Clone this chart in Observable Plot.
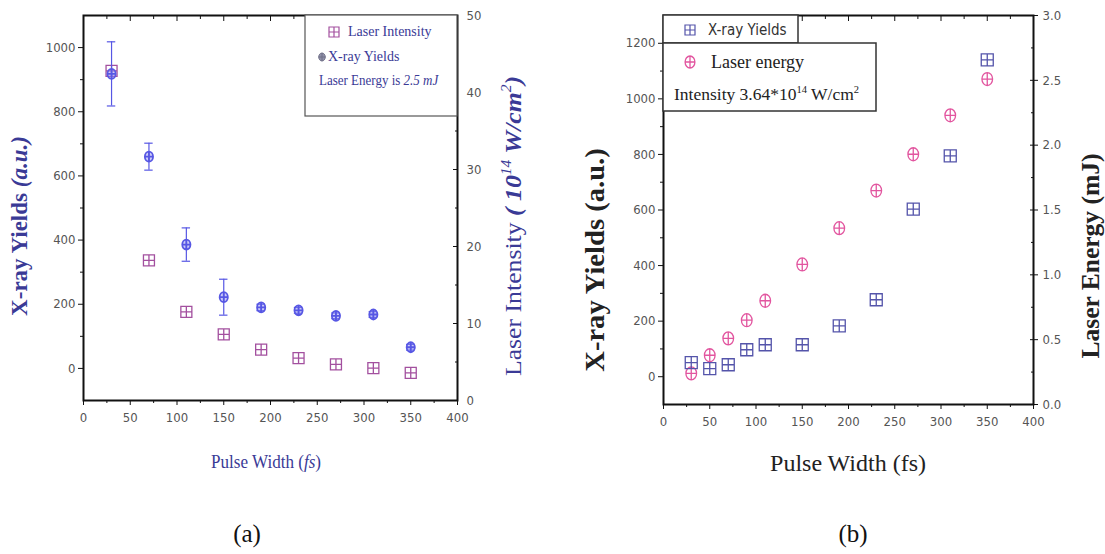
<!DOCTYPE html>
<html>
<head>
<meta charset="utf-8">
<script src="https://cdn.jsdelivr.net/npm/d3@7"></script>
<script src="https://cdn.jsdelivr.net/npm/@observablehq/plot@0.6"></script>
<style>
  body { margin: 0; background: #fff; }
  #fig { position: relative; width: 1105px; height: 554px; overflow: hidden; background: #fff; }
  .panel { position: absolute; top: 0; }
  .cap { position: absolute; top: 521px; width: 60px; text-align: center;
         font-family: "Liberation Serif", "Times New Roman", serif; font-size: 25px; color: #111; line-height: 1; }
</style>
</head>
<body>
<div id="fig"></div>
<script>
// ---------- Panel (a): fixed laser energy (2.5 mJ), varying pulse width ----------
const pulseWidthA = [30, 70, 110, 150, 190, 230, 270, 310, 350];           // fs
const xrayYieldA = [918, 660, 386, 222, 190, 181, 164, 168, 66];           // a.u.
const xrayErrA = [100, 42, 52, 56, 10, 9, 9, 9, 9];                       // a.u.
const laserIntensityA = [42.8, 18.2, 11.5, 8.6, 6.6, 5.5, 4.7, 4.2, 3.6]; // 10^14 W/cm^2
const intensityTicks = [0, 10, 20, 30, 40, 50];

// ---------- Panel (b): fixed intensity (3.64e14 W/cm^2), varying pulse width ----------
const pulseWidthB = [30, 50, 70, 90, 110, 150, 190, 230, 270, 310, 350];            // fs
const xrayYieldB = [51, 29, 43, 97, 115, 115, 183, 277, 603, 795, 1140];           // a.u.
const laserEnergyB = [0.24, 0.38, 0.51, 0.65, 0.80, 1.08, 1.36, 1.65, 1.93, 2.23, 2.51]; // mJ
const energyTicks = [0, 0.5, 1.0, 1.5, 2.0, 2.5, 3.0];

const xMajor = [0, 50, 100, 150, 200, 250, 300, 350, 400];
const xMinor = [25, 75, 125, 175, 225, 275, 325, 375];

const SERIF = '"Liberation Serif", "Times New Roman", serif';
const NARROW = '"Liberation Sans Narrow", "Arial Narrow", "DejaVu Sans Condensed", sans-serif';

// Marker shapes: square with inner cross, ellipse with inner cross
function ellipse(ctx, rx, ry) {
  const k = 0.5523;
  ctx.moveTo(rx, 0);
  ctx.bezierCurveTo(rx, ry * k, rx * k, ry, 0, ry);
  ctx.bezierCurveTo(-rx * k, ry, -rx, ry * k, -rx, 0);
  ctx.bezierCurveTo(-rx, -ry * k, -rx * k, -ry, 0, -ry);
  ctx.bezierCurveTo(rx * k, -ry, rx, -ry * k, rx, 0);
  ctx.closePath();
}
const circlePlus = {
  draw(ctx, size) {
    const r = Math.sqrt(size / Math.PI), rx = r * 0.82;
    ellipse(ctx, rx, r);
    ctx.moveTo(-rx, 0); ctx.lineTo(rx, 0);
    ctx.moveTo(0, -r); ctx.lineTo(0, r);
  }
};
const squarePlus = {
  draw(ctx, size) {
    const r = Math.sqrt(size / Math.PI);
    ctx.moveTo(-r, -r); ctx.lineTo(r, -r); ctx.lineTo(r, r); ctx.lineTo(-r, r); ctx.closePath();
    ctx.moveTo(-r, 0); ctx.lineTo(r, 0);
    ctx.moveTo(0, -r); ctx.lineTo(0, r);
  }
};
function symbolPath(type, r) { return d3.symbol().type(type).size(Math.PI * r * r)(); }

// Rich text label (italic parts, superscripts) appended to a plot's SVG;
// sx stretches the text along its reading direction
function richText(svg, {x, y, rotate = 0, sx = 1, size, fill, weight = "normal", family = SERIF, anchor = "middle", parts}) {
  const t = d3.select(svg).append("text")
    .attr("transform", `translate(${x},${y}) rotate(${rotate}) scale(${sx},1)`)
    .attr("text-anchor", anchor).attr("font-family", family)
    .attr("font-size", size).attr("font-weight", weight).attr("fill", fill);
  let raised = false;
  for (const p of parts) {
    const s = t.append("tspan").text(p.t);
    if (p.i) s.attr("font-style", "italic");
    if (p.w) s.attr("font-weight", p.w);
    if (p.sup) { s.attr("dy", -size * 0.42).attr("font-size", size * 0.6); raised = true; }
    else if (raised) { s.attr("dy", size * 0.42); raised = false; }
  }
  return t;
}

// Standard axes: outward ticks on left/bottom, inward ticks on top/right
function frameAxes({yMajor, yMinor, rightTicks, rightFormat, rightCross, labelFill}) {
  const txt = {fill: labelFill, fontSize: 13, fontFamily: NARROW};
  const blank = () => "";
  const plain = d => String(d);
  return [
    Plot.axisX({ticks: xMajor, tickSize: 0, tickPadding: 12, tickFormat: plain, label: null, ...txt}),
    Plot.axisX({ticks: xMajor, tickSize: 5, tickFormat: blank, label: null, stroke: "#111"}),
    Plot.axisX({ticks: xMinor, tickSize: 3, tickFormat: blank, label: null, stroke: "#111"}),
    Plot.axisX({anchor: "top", ticks: xMajor, tickSize: 5, dy: 5, tickFormat: blank, label: null, stroke: "#111"}),
    Plot.axisX({anchor: "top", ticks: xMinor, tickSize: 3, dy: 3, tickFormat: blank, label: null, stroke: "#111"}),
    Plot.axisY({ticks: yMajor, tickSize: 0, tickPadding: 8, tickFormat: plain, label: null, ...txt}),
    Plot.axisY({ticks: yMajor, tickSize: 5, tickFormat: blank, label: null, stroke: "#111"}),
    Plot.axisY({ticks: yMinor, tickSize: 3, tickFormat: blank, label: null, stroke: "#111"}),
    Plot.axisY({anchor: "right", ticks: rightTicks.major, tickSize: 0, tickPadding: 9,
                tickFormat: rightFormat, label: null, ...txt}),
    Plot.axisY({anchor: "right", ticks: rightTicks.major, tickSize: rightCross ? 8 : 5, dx: rightCross ? -4 : -5,
                tickFormat: blank, label: null, stroke: "#111"}),
    Plot.axisY({anchor: "right", ticks: rightTicks.minor, tickSize: 3, dx: -3,
                tickFormat: blank, label: null, stroke: "#111"})
  ];
}

const fig = document.getElementById("fig");

// ===================== Panel (a) =====================
{
  const yDomain = [-100, 1100];
  // right axis (laser intensity, 0..50) mapped onto the left scale
  const toLeft = v => yDomain[0] + (v / 50) * (yDomain[1] - yDomain[0]);
  const fromLeft = y => String(Math.round((y - yDomain[0]) / (yDomain[1] - yDomain[0]) * 50));
  const xray = pulseWidthA.map((x, i) => ({x, y: xrayYieldA[i], lo: xrayYieldA[i] - xrayErrA[i], hi: xrayYieldA[i] + xrayErrA[i]}));
  const caps = xray.flatMap(d => [{x: d.x, y: d.lo}, {x: d.x, y: d.hi}]);
  const intensity = pulseWidthA.map((x, i) => ({x, y: toLeft(laserIntensityA[i])}));
  const blue = "#5757e4", purple = "#a3509f", titleBlue = "#3a3a96";

  const svg = Plot.plot({
    width: 555, height: 480,
    marginLeft: 83, marginRight: 98, marginTop: 15, marginBottom: 80,
    x: {domain: [0, 400]},
    y: {domain: yDomain},
    style: {background: "transparent", overflow: "visible"},
    marks: [
      ...frameAxes({
        yMajor: [0, 200, 400, 600, 800, 1000],
        yMinor: [100, 300, 500, 700, 900],
        rightTicks: {major: intensityTicks.map(toLeft), minor: [5, 15, 25, 35, 45].map(toLeft)},
        rightFormat: fromLeft, rightCross: false, labelFill: "#555"
      }),
      Plot.dot(intensity, {x: "x", y: "y", r: 5.5, symbol: squarePlus, stroke: purple, strokeWidth: 1.3, fill: "none"}),
      Plot.ruleX(xray, {x: "x", y1: "lo", y2: "hi", stroke: blue, strokeWidth: 1.2}),
      Plot.ruleY(caps, {y: "y", x1: d => d.x - 4.5, x2: d => d.x + 4.5, stroke: blue, strokeWidth: 1.2}),
      Plot.dot(xray, {x: "x", y: "y", r: 5, symbol: circlePlus, stroke: blue, strokeWidth: 1.8, fill: "#8c8cf0", fillOpacity: 0.45}),
      Plot.frame({stroke: "#111", strokeWidth: 2})
    ]
  });
  svg.classList.add("panel");
  svg.style.left = "0px";
  fig.appendChild(svg);

  // legend box
  const g = d3.select(svg).append("g");
  g.append("rect").attr("x", 305).attr("y", 15).attr("width", 152).attr("height", 101)
    .attr("fill", "#fff").attr("stroke", "#555").attr("stroke-width", 1.2);
  g.append("path").attr("d", symbolPath(squarePlus, 5)).attr("transform", "translate(334,32)")
    .attr("fill", "none").attr("stroke", purple).attr("stroke-width", 1.2);
  g.append("path").attr("d", symbolPath(circlePlus, 4)).attr("transform", "translate(322,57)")
    .attr("fill", "#9090a8").attr("stroke", "#707088").attr("stroke-width", 1);
  richText(svg, {x: 348, y: 36, size: 14, fill: titleBlue, anchor: "start", parts: [{t: "Laser Intensity"}]});
  richText(svg, {x: 328, y: 61, size: 14, fill: titleBlue, anchor: "start", parts: [{t: "X-ray Yields"}]});
  richText(svg, {x: 319, y: 85, size: 14, sx: 0.93, fill: titleBlue, anchor: "start",
    parts: [{t: "Laser Energy is "}, {t: "2.5 mJ", i: true}]});

  // axis titles
  richText(svg, {x: 27, y: 226, rotate: -90, size: 23, fill: titleBlue, weight: "bold",
    parts: [{t: "X-ray Yields "}, {t: "(a.u.)", i: true}]});
  richText(svg, {x: 521, y: 226, rotate: -90, size: 23, sx: 1.12, fill: titleBlue,
    parts: [{t: "Laser Intensity "}, {t: "( 10", i: true, w: "bold"}, {t: "14", i: true, sup: true},
            {t: " W/cm", i: true, w: "bold"}, {t: "2", i: true, sup: true}, {t: ")", i: true, w: "bold"}]});
  richText(svg, {x: 266, y: 468, size: 18, sx: 0.95, fill: titleBlue,
    parts: [{t: "Pulse Width ("}, {t: "fs", i: true}, {t: ")"}]});
}

// ===================== Panel (b) =====================
{
  const yDomain = [-100, 1300];
  // right axis (laser energy, 0..3 mJ) mapped onto the left scale
  const toLeft = v => yDomain[0] + (v / 3) * (yDomain[1] - yDomain[0]);
  const fromLeft = y => ((y - yDomain[0]) / (yDomain[1] - yDomain[0]) * 3).toFixed(1);
  const xray = pulseWidthB.map((x, i) => ({x, y: xrayYieldB[i]}));
  const energy = pulseWidthB.map((x, i) => ({x, y: toLeft(laserEnergyB[i])}));
  const blue = "#5454aa", pink = "#e2559f";

  const svg = Plot.plot({
    width: 550, height: 480,
    marginLeft: 108, marginRight: 72, marginTop: 15, marginBottom: 76,
    x: {domain: [0, 400]},
    y: {domain: yDomain},
    style: {background: "transparent", overflow: "visible"},
    marks: [
      ...frameAxes({
        yMajor: [0, 200, 400, 600, 800, 1000, 1200],
        yMinor: [100, 300, 500, 700, 900, 1100],
        rightTicks: {major: energyTicks.map(toLeft), minor: [0.25, 0.75, 1.25, 1.75, 2.25, 2.75].map(toLeft)},
        rightFormat: fromLeft, rightCross: true, labelFill: "#555"
      }),
      Plot.dot(energy, {x: "x", y: "y", r: 6.5, symbol: circlePlus, stroke: pink, strokeWidth: 1.3, fill: "none"}),
      Plot.dot(xray, {x: "x", y: "y", r: 6, symbol: squarePlus, stroke: blue, strokeWidth: 1.3, fill: "none"}),
      Plot.frame({stroke: "#111", strokeWidth: 2})
    ]
  });
  svg.classList.add("panel");
  svg.style.left = "555px";
  fig.appendChild(svg);

  // two stacked legend boxes
  const g = d3.select(svg).append("g");
  g.append("rect").attr("x", 108).attr("y", 15).attr("width", 135).attr("height", 28)
    .attr("fill", "#fff").attr("stroke", "#333").attr("stroke-width", 1.5);
  g.append("rect").attr("x", 108).attr("y", 43).attr("width", 213).attr("height", 68)
    .attr("fill", "#fff").attr("stroke", "#333").attr("stroke-width", 1.5);
  g.append("path").attr("d", symbolPath(squarePlus, 5)).attr("transform", "translate(135,30)")
    .attr("fill", "none").attr("stroke", blue).attr("stroke-width", 1.2);
  g.append("path").attr("d", symbolPath(circlePlus, 6)).attr("transform", "translate(135,62)")
    .attr("fill", "none").attr("stroke", pink).attr("stroke-width", 1.3);
  richText(svg, {x: 153, y: 35, size: 15, fill: "#333", family: NARROW, anchor: "start", parts: [{t: "X-ray Yields"}]});
  richText(svg, {x: 156, y: 68, size: 18, fill: "#222", anchor: "start", parts: [{t: "Laser energy"}]});
  richText(svg, {x: 119, y: 100, size: 17.5, fill: "#222", anchor: "start",
    parts: [{t: "Intensity 3.64*10"}, {t: "14", sup: true}, {t: " W/cm"}, {t: "2", sup: true}]});

  // axis titles
  richText(svg, {x: 49, y: 260, rotate: -90, size: 27, sx: 1.06, fill: "#222", weight: "bold",
    parts: [{t: "X-ray Yields (a.u.)"}]});
  richText(svg, {x: 544, y: 256, rotate: -90, size: 25, sx: 1.02, fill: "#222", weight: "bold",
    parts: [{t: "Laser Energy (mJ)"}]});
  richText(svg, {x: 293, y: 471, size: 24, fill: "#222",
    parts: [{t: "Pulse Width (fs)"}]});
}

// panel captions
for (const [txt, cx] of [["(a)", 247], ["(b)", 853]]) {
  const d = document.createElement("div");
  d.className = "cap";
  d.style.left = (cx - 30) + "px";
  d.textContent = txt;
  fig.appendChild(d);
}
</script>
</body>
</html>
